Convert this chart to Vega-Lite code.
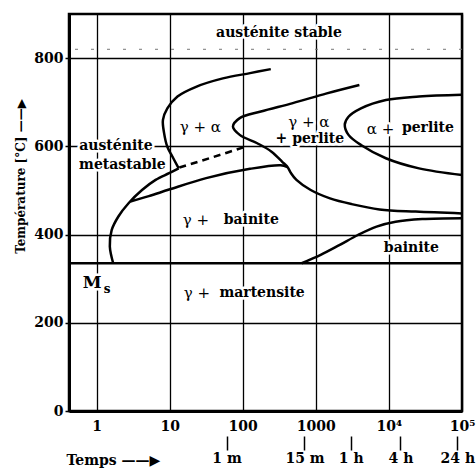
{
  "$schema": "https://vega.github.io/schema/vega-lite/v6.json",
  "width": 393,
  "height": 397,
  "padding": {"left": 14, "top": 14, "right": 10, "bottom": 2},
  "background": "white",
  "config": {
    "view": {"stroke": "black", "strokeWidth": 2.5},
    "font": "DejaVu Serif"
  },
  "datasets": {
    "curves": [
      {"curve": "A", "o": 1, "t": 242, "T": 775},
      {"curve": "A", "o": 2, "t": 126, "T": 766},
      {"curve": "A", "o": 3, "t": 53.5, "T": 754},
      {"curve": "A", "o": 4, "t": 23, "T": 735},
      {"curve": "A", "o": 5, "t": 12.8, "T": 713},
      {"curve": "A", "o": 6, "t": 9.3, "T": 686},
      {"curve": "A", "o": 7, "t": 8.1, "T": 660},
      {"curve": "A", "o": 8, "t": 8.4, "T": 630},
      {"curve": "A", "o": 9, "t": 9.3, "T": 599},
      {"curve": "A", "o": 10, "t": 10.9, "T": 577},
      {"curve": "A", "o": 11, "t": 13.3, "T": 550},
      {"curve": "D", "o": 1, "t": 13.3, "T": 550},
      {"curve": "D", "o": 2, "t": 9.84, "T": 539},
      {"curve": "D", "o": 3, "t": 6.43, "T": 524},
      {"curve": "D", "o": 4, "t": 4.19, "T": 501},
      {"curve": "D", "o": 5, "t": 2.74, "T": 471},
      {"curve": "D", "o": 6, "t": 1.99, "T": 441},
      {"curve": "D", "o": 7, "t": 1.61, "T": 410},
      {"curve": "D", "o": 8, "t": 1.52, "T": 373},
      {"curve": "D", "o": 9, "t": 1.69, "T": 335},
      {"curve": "C", "o": 1, "t": 2.9, "T": 475},
      {"curve": "C", "o": 2, "t": 5.19, "T": 487},
      {"curve": "C", "o": 3, "t": 9.84, "T": 502},
      {"curve": "C", "o": 4, "t": 31.6, "T": 528},
      {"curve": "C", "o": 5, "t": 126, "T": 549},
      {"curve": "C", "o": 6, "t": 330, "T": 557},
      {"curve": "C", "o": 7, "t": 410, "T": 553},
      {"curve": "B", "o": 1, "t": 3945, "T": 739},
      {"curve": "B", "o": 2, "t": 1413, "T": 720},
      {"curve": "B", "o": 3, "t": 485, "T": 698},
      {"curve": "B", "o": 4, "t": 177, "T": 679},
      {"curve": "B", "o": 5, "t": 91, "T": 664},
      {"curve": "B", "o": 6, "t": 73.5, "T": 645},
      {"curve": "B", "o": 7, "t": 91, "T": 626},
      {"curve": "B", "o": 8, "t": 158, "T": 607},
      {"curve": "B", "o": 9, "t": 248, "T": 588},
      {"curve": "B", "o": 10, "t": 347, "T": 565},
      {"curve": "B", "o": 11, "t": 410, "T": 553},
      {"curve": "B", "o": 12, "t": 459, "T": 539},
      {"curve": "B", "o": 13, "t": 543, "T": 524},
      {"curve": "B", "o": 14, "t": 851, "T": 501},
      {"curve": "B", "o": 15, "t": 1563, "T": 482},
      {"curve": "B", "o": 16, "t": 3090, "T": 469},
      {"curve": "B", "o": 17, "t": 7450, "T": 457},
      {"curve": "B", "o": 18, "t": 23200, "T": 452},
      {"curve": "B", "o": 19, "t": 100000, "T": 448},
      {"curve": "E", "o": 1, "t": 100000, "T": 717},
      {"curve": "E", "o": 2, "t": 25800, "T": 713},
      {"curve": "E", "o": 3, "t": 9080, "T": 705},
      {"curve": "E", "o": 4, "t": 4150, "T": 686},
      {"curve": "E", "o": 5, "t": 2800, "T": 667},
      {"curve": "E", "o": 6, "t": 2490, "T": 649},
      {"curve": "E", "o": 7, "t": 2800, "T": 626},
      {"curve": "E", "o": 8, "t": 4150, "T": 603},
      {"curve": "E", "o": 9, "t": 9080, "T": 573},
      {"curve": "E", "o": 10, "t": 25800, "T": 550},
      {"curve": "E", "o": 11, "t": 100000, "T": 535},
      {"curve": "F", "o": 1, "t": 641, "T": 335},
      {"curve": "F", "o": 2, "t": 1165, "T": 354},
      {"curve": "F", "o": 3, "t": 2095, "T": 376},
      {"curve": "F", "o": 4, "t": 3770, "T": 399},
      {"curve": "F", "o": 5, "t": 6780, "T": 418},
      {"curve": "F", "o": 6, "t": 12350, "T": 429},
      {"curve": "F", "o": 7, "t": 28600, "T": 435},
      {"curve": "F", "o": 8, "t": 100000, "T": 437}
    ],
    "dashed": [
      {"o": 1, "t": 13.6, "T": 552},
      {"o": 2, "t": 40, "T": 576},
      {"o": 3, "t": 118, "T": 601}
    ],
    "refs": [
      {"name": "Ms", "T": 335},
      {"name": "A1", "T": 820}
    ],
    "boldLabels": [
      {"text": "austénite stable", "t": 313, "T": 857},
      {"text": "austénite", "t": 1.84, "T": 600},
      {"text": "metastable", "t": 2.26, "T": 557},
      {"text": "+ perlite", "t": 830, "T": 617},
      {"text": "perlite", "t": 34200, "T": 641},
      {"text": "bainite", "t": 131, "T": 434},
      {"text": "bainite", "t": 20300, "T": 370},
      {"text": "martensite", "t": 184, "T": 268}
    ],
    "regLabels": [
      {"text": "γ + α", "t": 26.3, "T": 644},
      {"text": "γ + α", "t": 803, "T": 656},
      {"text": "α +", "t": 7680, "T": 640},
      {"text": "γ +", "t": 22.9, "T": 434},
      {"text": "γ +", "t": 23.7, "T": 268}
    ],
    "msM": [{"text": "M", "t": 0.87, "T": 290}],
    "msS": [{"text": "s", "t": 1.4, "T": 277}],
    "timeTicks": [
      {"t": 60, "label": "1 m"},
      {"t": 700, "label": "15 m"},
      {"t": 3000, "label": "1 h"},
      {"t": 14400, "label": "4 h"},
      {"t": 86400, "label": "24 h"}
    ]
  },
  "layer": [
    {
      "layer": [
        {
          "data": {"name": "curves"},
          "mark": {"type": "line", "color": "black", "strokeWidth": 2.5, "interpolate": "catmull-rom"},
          "encoding": {
            "x": {
              "field": "t", "type": "quantitative",
              "scale": {"type": "log", "domain": [0.42, 100000], "nice": false},
              "axis": {
                "orient": "bottom",
                "values": [1, 10, 100, 1000, 10000, 100000],
                "labelExpr": "datum.value == 10000 ? '10⁴' : datum.value == 100000 ? '10⁵' : format(datum.value, 'd')",
                "grid": true, "gridColor": "black", "gridWidth": 1.3, "gridOpacity": 1,
                "ticks": false,
                "domain": true, "domainColor": "black", "domainWidth": 3,
                "labelFont": "DejaVu Serif", "labelFontWeight": "bold", "labelFontSize": 14, "labelColor": "black",
                "labelPadding": 8, "labelFlush": false, "labelOverlap": false,
                "title": null
              }
            },
            "y": {
              "field": "T", "type": "quantitative",
              "scale": {"domain": [0, 900], "nice": false, "zero": true},
              "axis": {
                "orient": "left",
                "values": [0, 200, 400, 600, 800],
                "grid": true, "gridColor": "black", "gridWidth": 1.3, "gridOpacity": 1,
                "ticks": true, "tickSize": 4, "tickColor": "black", "tickWidth": 1.5,
                "domain": true, "domainColor": "black", "domainWidth": 3,
                "labelFont": "DejaVu Serif", "labelFontWeight": "bold", "labelFontSize": 14, "labelColor": "black",
                "labelPadding": 2,
                "title": "Température [°C]   ——▶",
                "titleFont": "DejaVu Serif", "titleFontWeight": "bold", "titleFontSize": 12, "titleColor": "black",
                "titleX": -49, "titleY": 162, "titleAngle": -90, "titleBaseline": "middle", "titleAlign": "center"
              }
            },
            "detail": {"field": "curve", "type": "nominal"},
            "order": {"field": "o", "type": "quantitative"}
          }
        },
        {
          "data": {"name": "dashed"},
          "mark": {"type": "line", "color": "black", "strokeWidth": 2.5, "strokeDash": [7, 5], "interpolate": "catmull-rom"},
          "encoding": {
            "x": {"field": "t", "type": "quantitative"},
            "y": {"field": "T", "type": "quantitative"},
            "order": {"field": "o", "type": "quantitative"}
          }
        },
        {
          "data": {"name": "refs"},
          "transform": [{"filter": "datum.name == 'Ms'"}],
          "mark": {"type": "rule", "color": "black", "strokeWidth": 2.6},
          "encoding": {"y": {"field": "T", "type": "quantitative"}}
        },
        {
          "data": {"name": "refs"},
          "transform": [{"filter": "datum.name == 'A1'"}],
          "mark": {"type": "rule", "color": "#777777", "strokeWidth": 1, "strokeDash": [3, 13]},
          "encoding": {"y": {"field": "T", "type": "quantitative"}}
        },
        {
          "data": {"name": "boldLabels"},
          "mark": {"type": "text", "font": "DejaVu Serif", "fontWeight": "bold", "fontSize": 14, "fill": "white", "stroke": "white", "strokeWidth": 5, "strokeJoin": "round", "baseline": "middle", "align": "center"},
          "encoding": {"x": {"field": "t", "type": "quantitative"}, "y": {"field": "T", "type": "quantitative"}, "text": {"field": "text"}}
        },
        {
          "data": {"name": "regLabels"},
          "mark": {"type": "text", "font": "DejaVu Serif", "fontSize": 15, "fill": "white", "stroke": "white", "strokeWidth": 5, "strokeJoin": "round", "baseline": "middle", "align": "center"},
          "encoding": {"x": {"field": "t", "type": "quantitative"}, "y": {"field": "T", "type": "quantitative"}, "text": {"field": "text"}}
        },
        {
          "data": {"name": "msM"},
          "mark": {"type": "text", "font": "DejaVu Serif", "fontWeight": "bold", "fontSize": 17, "fill": "white", "stroke": "white", "strokeWidth": 5, "strokeJoin": "round", "baseline": "middle", "align": "center"},
          "encoding": {"x": {"field": "t", "type": "quantitative"}, "y": {"field": "T", "type": "quantitative"}, "text": {"field": "text"}}
        },
        {
          "data": {"name": "boldLabels"},
          "mark": {"type": "text", "font": "DejaVu Serif", "fontWeight": "bold", "fontSize": 14, "color": "black", "baseline": "middle", "align": "center"},
          "encoding": {"x": {"field": "t", "type": "quantitative"}, "y": {"field": "T", "type": "quantitative"}, "text": {"field": "text"}}
        },
        {
          "data": {"name": "regLabels"},
          "mark": {"type": "text", "font": "DejaVu Serif", "fontSize": 15, "color": "black", "baseline": "middle", "align": "center"},
          "encoding": {"x": {"field": "t", "type": "quantitative"}, "y": {"field": "T", "type": "quantitative"}, "text": {"field": "text"}}
        },
        {
          "data": {"name": "msM"},
          "mark": {"type": "text", "font": "DejaVu Serif", "fontWeight": "bold", "fontSize": 17, "color": "black", "baseline": "middle", "align": "center"},
          "encoding": {"x": {"field": "t", "type": "quantitative"}, "y": {"field": "T", "type": "quantitative"}, "text": {"field": "text"}}
        },
        {
          "data": {"name": "msS"},
          "mark": {"type": "text", "font": "DejaVu Serif", "fontWeight": "bold", "fontSize": 12, "color": "black", "baseline": "middle", "align": "center"},
          "encoding": {"x": {"field": "t", "type": "quantitative"}, "y": {"field": "T", "type": "quantitative"}, "text": {"field": "text"}}
        }
      ]
    },
    {
      "data": {"name": "timeTicks"},
      "mark": {"type": "rule", "opacity": 0},
      "encoding": {
        "x": {
          "field": "t", "type": "quantitative",
          "scale": {"type": "log", "domain": [0.42, 100000], "nice": false},
          "axis": {
            "orient": "bottom", "offset": 25,
            "values": [60, 700, 3000, 14400, 86400],
            "labelExpr": "datum.value == 60 ? '1 m' : datum.value == 700 ? '15 m' : datum.value == 3000 ? '1 h' : datum.value == 14400 ? '4 h' : '24 h'",
            "grid": false, "domain": false,
            "ticks": true, "tickSize": 14, "tickWidth": 1.5, "tickColor": "black",
            "labelFont": "DejaVu Serif", "labelFontWeight": "bold", "labelFontSize": 14, "labelColor": "black",
            "labelPadding": 1, "labelFlush": false, "labelOverlap": false,
            "title": "Temps  ——▶",
            "titleFont": "DejaVu Serif", "titleFontWeight": "bold", "titleFontSize": 14, "titleColor": "black",
            "titleX": -3, "titleY": 24, "titleAlign": "left", "titleBaseline": "middle", "titleAngle": 0
          }
        }
      }
    }
  ],
  "resolve": {"scale": {"x": "independent"}, "axis": {"x": "independent"}}
}
